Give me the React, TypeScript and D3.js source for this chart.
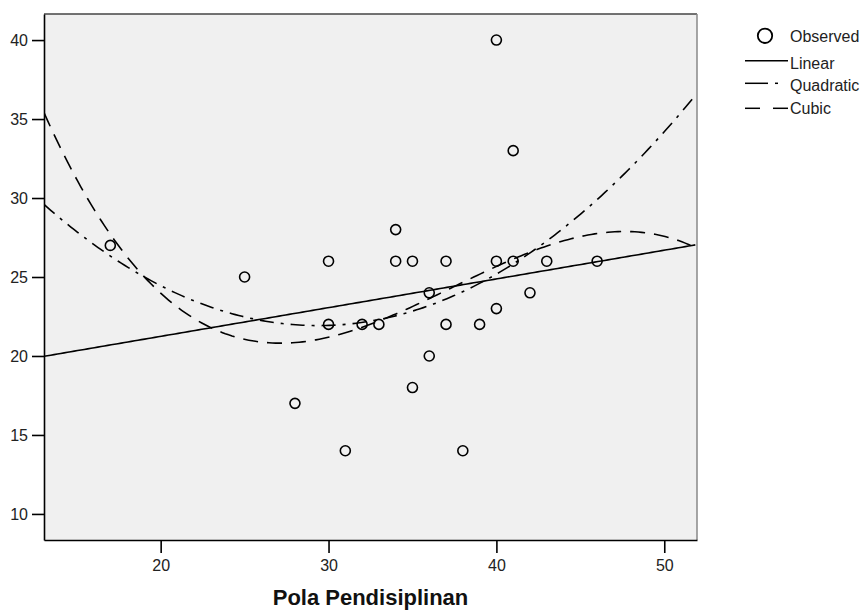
import React, { useEffect, useRef } from 'react';
import * as d3 from 'd3';

// observed points (Pola Pendisiplinan vs. dependent score)
const xValues = [17, 25, 28, 30, 30, 31, 32, 33, 34, 34, 35, 35, 36, 36, 37, 37, 38, 39, 40, 40, 40, 41, 41, 42, 43, 46];
const yValues = [27, 25, 17, 26, 22, 14, 22, 22, 28, 26, 26, 18, 24, 20, 26, 22, 14, 22, 40, 26, 23, 33, 26, 24, 26, 26];

const xTicks = [20, 30, 40, 50];
const yTicks = [10, 15, 20, 25, 30, 35, 40];
const legendLabels = ['Observed', 'Linear', 'Quadratic', 'Cubic'];
const xTitle = 'Pola Pendisiplinan';

// least squares polynomial fit, x centred on its mean
function polyFit(xs: number[], ys: number[], deg: number) {
  const mx = d3.mean(xs) as number;
  const n = deg + 1;
  const A = d3.range(n).map(() => d3.range(n).map(() => 0));
  const b = d3.range(n).map(() => 0);
  xs.forEach((x, i) => {
    const u = x - mx;
    for (let r = 0; r < n; r++) {
      for (let c = 0; c < n; c++) A[r][c] += Math.pow(u, r + c);
      b[r] += ys[i] * Math.pow(u, r);
    }
  });
  for (let k = 0; k < n; k++) {
    let p = k;
    for (let r = k + 1; r < n; r++) if (Math.abs(A[r][k]) > Math.abs(A[p][k])) p = r;
    [A[k], A[p]] = [A[p], A[k]];
    [b[k], b[p]] = [b[p], b[k]];
    for (let r = k + 1; r < n; r++) {
      const f = A[r][k] / A[k][k];
      for (let c = k; c < n; c++) A[r][c] -= f * A[k][c];
      b[r] -= f * b[k];
    }
  }
  const coef = d3.range(n).map(() => 0);
  for (let k = n - 1; k >= 0; k--) {
    let s = b[k];
    for (let c = k + 1; c < n; c++) s -= A[k][c] * coef[c];
    coef[k] = s / A[k][k];
  }
  return (x: number) => coef.reduce((acc, cf, k) => acc + cf * Math.pow(x - mx, k), 0);
}

const App: React.FC = () => {
  const svgRef = useRef<SVGSVGElement>(null);

  useEffect(() => {
    if (!svgRef.current) return;
    const svg = d3.select(svgRef.current);
    svg.selectAll('*').remove();

    const left = 44, top = 14, right = 697, bottom = 540;
    const font = 'Liberation Sans, Arial, sans-serif';

    const x = d3.scaleLinear().domain([13.05, 51.95]).range([left, right]);
    const y = d3.scaleLinear().domain([8.35, 41.65]).range([bottom, top]);

    svg.append('rect')
      .attr('x', left).attr('y', top)
      .attr('width', right - left).attr('height', bottom - top)
      .attr('fill', '#f0f0f0');

    svg.append('defs').append('clipPath').attr('id', 'plotclip')
      .append('rect')
      .attr('x', left).attr('y', top)
      .attr('width', right - left).attr('height', bottom - top);

    // fitted curves
    const grid = d3.range(13.05, 51.96, 0.2);
    const fits = [
      { deg: 1, dash: null },
      { deg: 2, dash: '14,7,3,7' },
      { deg: 3, dash: '15,9' },
    ];
    const line = d3.line<number>()
      .x(d => x(d))
      .curve(d3.curveLinear);

    fits.forEach(f => {
      const fn = polyFit(xValues, yValues, f.deg);
      svg.append('path')
        .datum(grid)
        .attr('clip-path', 'url(#plotclip)')
        .attr('d', line.y(d => y(fn(d))))
        .attr('fill', 'none')
        .attr('stroke', '#000')
        .attr('stroke-width', 1.6)
        .attr('stroke-dasharray', f.dash);
    });

    // observed points
    svg.append('g')
      .selectAll('circle')
      .data(xValues.map((v, i) => [v, yValues[i]]))
      .join('circle')
      .attr('cx', d => x(d[0]))
      .attr('cy', d => y(d[1]))
      .attr('r', 5)
      .attr('fill', 'none')
      .attr('stroke', '#000')
      .attr('stroke-width', 1.6);

    // frame
    svg.append('line')
      .attr('x1', left).attr('x2', right).attr('y1', top).attr('y2', top)
      .attr('stroke', '#444').attr('stroke-width', 1.3);
    svg.append('line')
      .attr('x1', right).attr('x2', right).attr('y1', top).attr('y2', bottom)
      .attr('stroke', '#888').attr('stroke-width', 1.5);

    // axes
    const xAxis = svg.append('g')
      .attr('transform', `translate(0,${bottom})`)
      .call(d3.axisBottom(x).tickValues(xTicks).tickSize(13).tickPadding(7).tickSizeOuter(0));
    const yAxis = svg.append('g')
      .attr('transform', `translate(${left},0)`)
      .call(d3.axisLeft(y).tickValues(yTicks).tickSize(12).tickPadding(4).tickSizeOuter(0));

    [xAxis, yAxis].forEach(ax => {
      ax.select('.domain').attr('stroke', '#000').attr('stroke-width', 1.6);
      ax.selectAll('.tick line').attr('stroke', '#000').attr('stroke-width', 1.6);
      ax.selectAll('.tick text')
        .attr('font-family', font)
        .attr('font-size', 16)
        .attr('fill', '#222');
    });

    svg.append('text')
      .attr('x', (left + right) / 2)
      .attr('y', 605)
      .attr('text-anchor', 'middle')
      .attr('font-family', font)
      .attr('font-weight', 'bold')
      .attr('font-size', 22)
      .attr('fill', '#111')
      .text(xTitle);

    // legend
    const lg = svg.append('g').attr('font-family', font).attr('font-size', 16).attr('fill', '#222');
    const textRows = [35.8, 63.3, 85, 108.3];
    const markRows = [35.8, 60.7, 83.3, 108.3];
    legendLabels.forEach((lab, i) => {
      lg.append('text')
        .attr('x', 790)
        .attr('y', textRows[i])
        .attr('dy', '0.36em')
        .text(lab);
    });
    lg.append('circle')
      .attr('cx', 765).attr('cy', markRows[0]).attr('r', 7.2)
      .attr('fill', 'none').attr('stroke', '#000').attr('stroke-width', 1.8);
    const seg = (x1: number, x2: number, yy: number) =>
      lg.append('line')
        .attr('x1', x1).attr('x2', x2).attr('y1', yy).attr('y2', yy)
        .attr('stroke', '#000').attr('stroke-width', 1.5);
    seg(745, 788, markRows[1]);
    seg(745, 768, markRows[2]);
    seg(775, 778, markRows[2]);
    seg(745, 760, markRows[3]);
    seg(773, 788, markRows[3]);
  }, []);

  return (
    <svg
      ref={svgRef}
      width={863}
      height={610}
      style={{ position: 'absolute', left: 0, top: 0, background: '#fff' }}
    />
  );
};

export default App;
